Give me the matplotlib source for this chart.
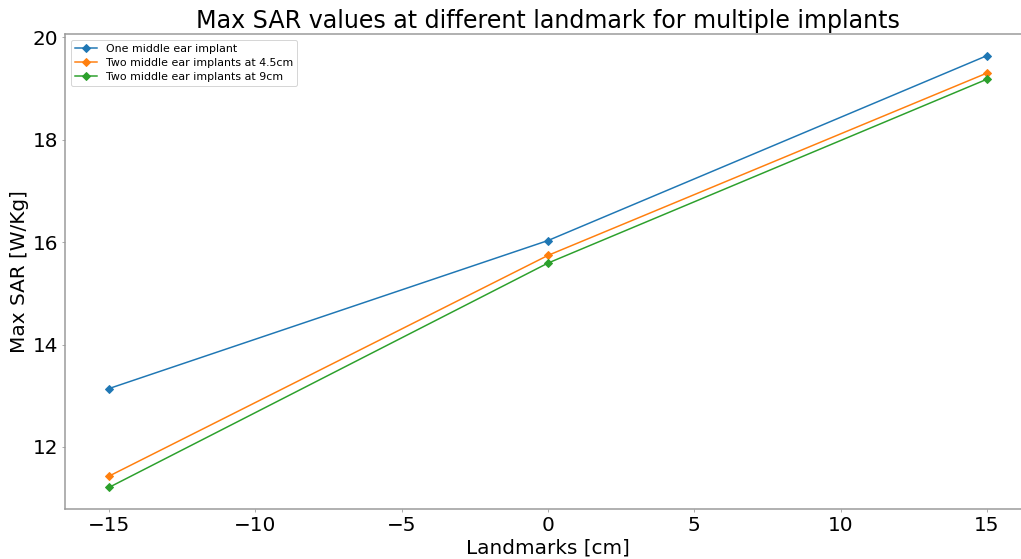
import numpy as np
from matplotlib import pyplot as plt

landmarks = [-15, 0, 15]
one_implant = [13.14, 16.03, 19.64]
two_implants_45 = [11.43, 15.74, 19.30]
two_implants_9 = [11.21, 15.59, 19.18]

fig = plt.figure(figsize=(1021 / 72, 559 / 72), dpi=72)
# axes runs a little past the right edge of the canvas
ax = fig.add_axes([0.0637, 0.0894, 0.946, 0.8497])

ax.plot(landmarks, one_implant, marker="D", label="One middle ear implant")
ax.plot(landmarks, two_implants_45, marker="D", label="Two middle ear implants at 4.5cm")
ax.plot(landmarks, two_implants_9, marker="D", label="Two middle ear implants at 9cm")

ax.set_xlim(-16.5, 16.5)
ax.set_title("Max SAR values at different landmark for multiple implants", fontsize=23.7)
ax.set_xlabel("Landmarks [cm]", fontsize=20)
ax.set_ylabel("Max SAR [W/Kg]", fontsize=20)
ax.tick_params(labelsize=20, color="#999999", length=3)
for s in ax.spines.values():
    s.set_color("#999999")
    s.set_linewidth(1.5)

ax.legend(loc="upper left", fontsize=11, labelspacing=0.35)

fig.savefig("out.png", dpi=72)
